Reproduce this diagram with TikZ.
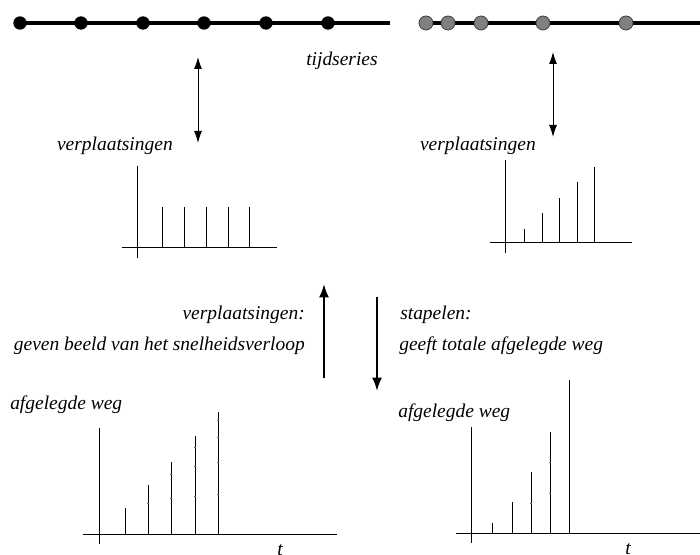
\documentclass[tikz,border=0pt]{standalone}
\usepackage{fontspec}
\setmainfont{Liberation Serif}
\usetikzlibrary{arrows.meta}
\begin{document}
\begin{tikzpicture}[x=0.75pt,y=-0.75pt,
 lbl/.style={font=\fontsize{14.6}{17}\selectfont\itshape, inner sep=0pt},
 axisln/.style={line width=0.75pt},
 barln/.style={line width=0.75pt},
 tickln/.style={line width=0.45pt,black!60},
 tline/.style={line width=3pt},
 bdot/.style={circle,fill=black,inner sep=0pt,minimum size=10pt},
 gdot/.style={circle,fill=black!50,draw=black!75,line width=0.6pt,inner sep=0pt,minimum size=10.5pt},
 thinarr/.style={line width=0.75pt,{Latex[length=9pt,width=6pt]}-{Latex[length=9pt,width=6pt]}},
 bigarr/.style={line width=1.5pt,-{Latex[length=10pt,width=7.5pt]}}]
\useasboundingbox (0,0) rectangle (700,555);

% --- time series left
\coordinate (L0) at (15,23);
\coordinate (L1) at (390,23);
\draw[tline] (L0) -- (L1);
\foreach \x [count=\i] in {20,81,143,204,266,328} \node[bdot] (ld\i) at (\x,23) {};

% --- time series right
\coordinate (R0) at (426,23);
\coordinate (R1) at (700,23);
\draw[tline] (R0) -- (R1);
\foreach \x [count=\i] in {426,448,481,543,626} \node[gdot] (rd\i) at (\x,23) {};

\node[lbl,anchor=base west] (tijd) at (306,66) {tijdseries};

% --- top double arrows
\coordinate (la1) at (198,57);
\coordinate (la2) at (198,143);
\draw[thinarr] (la1) -- (la2);
\coordinate (ra1) at (553,52);
\coordinate (ra2) at (553,137);
\draw[thinarr] (ra1) -- (ra2);

\node[lbl,anchor=base east] (vpl) at (173,151) {verplaatsingen};
\node[lbl,anchor=base east] (vpr) at (536,151) {verplaatsingen};

% --- middle left chart
\draw[axisln] (137,166) -- (137,258);
\draw[axisln] (122,248) -- (277,248);
\foreach \x in {162,184,206,228,249} \draw[barln] (\x,248) -- (\x,207);

% --- middle right chart
\draw[axisln] (505,160) -- (505,253);
\draw[axisln] (490,243) -- (632,243);
\foreach \x/\t in {524/229,542/213,559/198,577/182,594/167} \draw[barln] (\x,243) -- (\x,\t);

% --- middle arrows and texts
\coordinate (ua1) at (324,378);
\coordinate (ua2) at (324,284);
\draw[bigarr] (ua1) -- (ua2);
\coordinate (da1) at (377,297);
\coordinate (da2) at (377,391);
\draw[bigarr] (da1) -- (da2);

\node[lbl,anchor=base east] (t1) at (305,320) {verplaatsingen:};
\node[lbl,anchor=base east] (t2) at (305,351) {geven beeld van het snelheidsverloop};
\node[lbl,anchor=base west] (t3) at (400,320) {stapelen:};
\node[lbl,anchor=base west] (t4) at (399,351) {geeft totale afgelegde weg};

% --- bottom left chart
\node[lbl,anchor=base west] (awl) at (10,410) {afgelegde weg};
\draw[axisln] (99,428) -- (99,544);
\draw[axisln] (83,535) -- (337,535);
\foreach \x/\t in {125/508,148/485,171/462,195/436,218/412} \draw[barln] (\x,535) -- (\x,\t);
\foreach \x/\y in {148/503,171/474,171/498,195/447,195/466,195/496,218/420,218/437,218/462,218/494}
  \draw[tickln] (\x-1,\y) -- (\x+1,\y);
\node[lbl,anchor=base] (tl) at (280,556) {t};

% --- bottom right chart
\node[lbl,anchor=base west] (awr) at (398,418) {afgelegde weg};
\draw[axisln] (471,427) -- (471,543);
\draw[axisln] (456,534) -- (700,534);
\foreach \x/\t in {492/523,512/502,531/472,550/432,569/380} \draw[barln] (\x,534) -- (\x,\t);
\foreach \x/\y in {531/503,550/462,550/493}
  \draw[tickln] (\x-1,\y) -- (\x+1,\y);
\node[lbl,anchor=base] (tr) at (628,555) {t};
\end{tikzpicture}
\end{document}
